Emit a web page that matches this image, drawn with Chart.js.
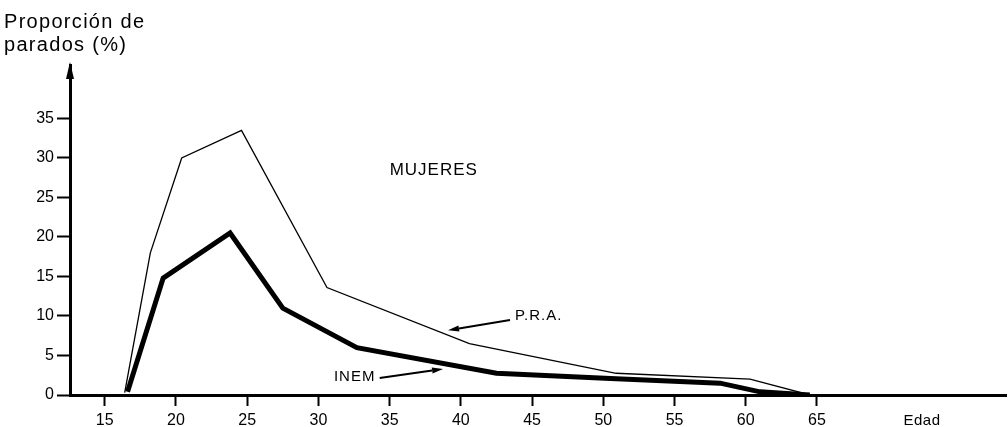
<!DOCTYPE html>
<html lang="es">
<head>
    <meta charset="UTF-8">
    <title>Proporción de parados - Mujeres</title>
    <style>
        html, body { margin: 0; padding: 0; background: #fff; }
        #wrap { width: 1008px; height: 427px; }
    </style>
</head>
<body>
<div id="wrap">
    <canvas id="chart1" width="1008" height="427"></canvas>
</div>

<script src="https://cdn.jsdelivr.net/npm/chart.js"></script>
<script>
    // P.R.A. (thin line)
    const praAge = [16.4, 18.2, 20.4, 24.6, 30.6, 40.6, 50.9, 60.3, 64.5];
    const praVal = [0.3, 18, 30, 33.5, 13.6, 6.5, 2.75, 2.0, 0];

    // INEM (thick line)
    const inemAge = [16.6, 19.1, 23.8, 27.5, 32.7, 42.5, 50.5, 58.2, 61.0, 64.5];
    const inemVal = [0.4, 14.8, 20.5, 11.0, 6.0, 2.75, 2.1, 1.5, 0.4, 0];

    const xTicks = [15, 20, 25, 30, 35, 40, 45, 50, 55, 60, 65];
    const yTicks = [0, 5, 10, 15, 20, 25, 30, 35];

    const FONT = '"Liberation Sans", Arial, sans-serif';

    function arrow(ctx, x1, y1, x2, y2) {
        const a = Math.atan2(y2 - y1, x2 - x1);
        const len = 11, hw = 3;
        ctx.beginPath();
        ctx.moveTo(x1, y1);
        ctx.lineTo(x2 - Math.cos(a) * len, y2 - Math.sin(a) * len);
        ctx.lineWidth = 2;
        ctx.stroke();
        ctx.beginPath();
        ctx.moveTo(x2, y2);
        ctx.lineTo(x2 - Math.cos(a) * len - Math.sin(a) * hw, y2 - Math.sin(a) * len + Math.cos(a) * hw);
        ctx.lineTo(x2 - Math.cos(a) * len + Math.sin(a) * hw, y2 - Math.sin(a) * len - Math.cos(a) * hw);
        ctx.closePath();
        ctx.fill();
    }

    const annotations = {
        id: 'annotations',
        afterDraw(chart) {
            const ctx = chart.ctx;
            const xs = chart.scales.x, ys = chart.scales.y;
            const area = chart.chartArea;
            ctx.save();
            ctx.fillStyle = '#000';
            ctx.strokeStyle = '#000';

            // y axis arrow head
            ctx.beginPath();
            ctx.moveTo(area.left, area.top - 3);
            ctx.lineTo(area.left - 4, area.top + 14);
            ctx.lineTo(area.left + 4, area.top + 14);
            ctx.closePath();
            ctx.fill();

            // title
            ctx.font = '20px ' + FONT;
            ctx.letterSpacing = '1.3px';
            ctx.textAlign = 'left';
            ctx.textBaseline = 'alphabetic';
            ctx.fillText('Proporción de', 4, 28);
            ctx.fillText('parados (%)', 4, 51);

            ctx.font = '17px ' + FONT;
            ctx.letterSpacing = '1px';
            ctx.textBaseline = 'middle';
            ctx.fillText('MUJERES', xs.getPixelForValue(35.0), ys.getPixelForValue(28.4));

            ctx.font = '15px ' + FONT;
            ctx.fillText('P.R.A.', xs.getPixelForValue(43.8), ys.getPixelForValue(10.0));
            ctx.textAlign = 'right';
            ctx.fillText('INEM', xs.getPixelForValue(34.0), ys.getPixelForValue(2.3));

            ctx.letterSpacing = '0px';
            arrow(ctx, xs.getPixelForValue(43.45), ys.getPixelForValue(9.5),
                xs.getPixelForValue(39.1), ys.getPixelForValue(8.2));
            arrow(ctx, xs.getPixelForValue(34.3), ys.getPixelForValue(2.15),
                xs.getPixelForValue(38.75), ys.getPixelForValue(3.3));

            ctx.font = '15px ' + FONT;
            ctx.letterSpacing = '0.5px';
            ctx.textAlign = 'center';
            ctx.fillText('Edad', 922, 421);
            ctx.restore();
        }
    };

    const data = {
        datasets: [{
            label: 'P.R.A.',
            data: praAge.map((a, i) => ({x: a, y: praVal[i]})),
            borderColor: '#000',
            borderWidth: 1.3,
            pointRadius: 0,
            tension: 0
        }, {
            label: 'INEM',
            data: inemAge.map((a, i) => ({x: a, y: inemVal[i]})),
            borderColor: '#000',
            borderWidth: 5,
            borderJoinStyle: 'miter',
            pointRadius: 0,
            tension: 0
        }]
    };

    const config = {
        type: 'line',
        data: data,
        plugins: [annotations],
        options: {
            responsive: false,
            animation: false,
            layout: {padding: {top: 65, right: 2, left: 0, bottom: 0}},
            plugins: {legend: {display: false}, tooltip: {enabled: false}},
            scales: {
                x: {
                    type: 'linear',
                    min: 12.56,
                    max: 78.27,
                    afterBuildTicks: (s) => { s.ticks = xTicks.map(v => ({value: v})); },
                    afterFit: (s) => { s.height = 32; },
                    grid: {display: true, drawOnChartArea: false, drawTicks: true, tickLength: 11, tickWidth: 2, color: '#000'},
                    border: {display: true, width: 3, color: '#000'},
                    ticks: {color: '#000', font: {size: 16, family: FONT}, padding: 5, maxRotation: 0, autoSkip: false}
                },
                y: {
                    min: 0,
                    max: 41.77,
                    afterBuildTicks: (s) => { s.ticks = yTicks.map(v => ({value: v})); },
                    afterFit: (s) => { s.width = 70; },
                    grid: {display: true, drawOnChartArea: false, drawTicks: true, tickLength: 13, tickWidth: 2, color: '#000'},
                    border: {display: true, width: 3, color: '#000'},
                    ticks: {color: '#000', font: {size: 16, family: FONT}, padding: 3, autoSkip: false}
                }
            }
        }
    };

    const chart = new Chart(document.getElementById('chart1').getContext('2d'), config);
</script>
</body>
</html>
